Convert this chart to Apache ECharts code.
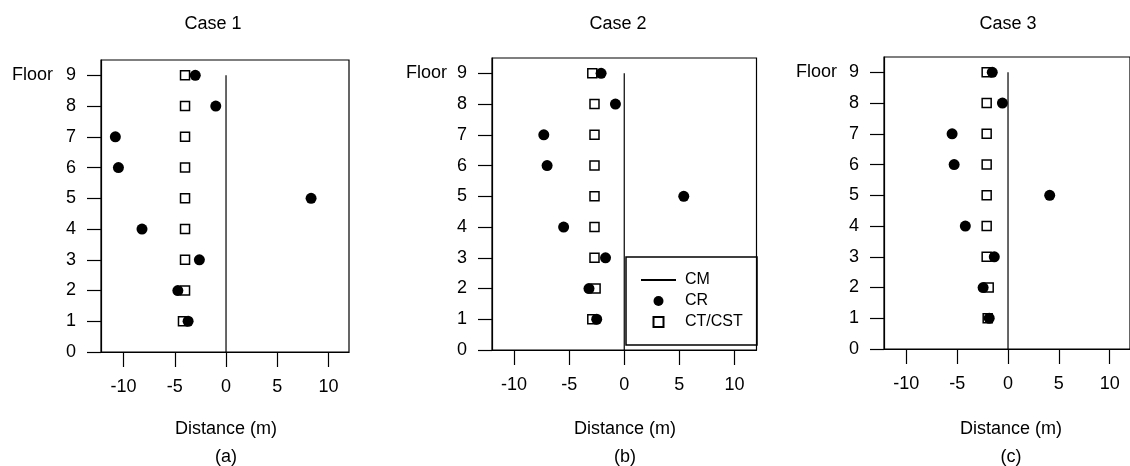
<!DOCTYPE html>
<html><head><meta charset="utf-8">
<script src="https://cdn.jsdelivr.net/npm/echarts@6/dist/echarts.min.js"></script>
<style>html,body{margin:0;padding:0;background:#fff}#c{width:1130px;height:466px}</style>
</head><body><div id="c"></div>
<script>
// ---- data ----
const floors = [1, 2, 3, 4, 5, 6, 7, 8, 9];
const floorTicks = [0, 1, 2, 3, 4, 5, 6, 7, 8, 9];
const distanceTicks = [-10, -5, 0, 5, 10];
const caseTitles = ['Case 1', 'Case 2', 'Case 3'];
const panelTags = ['(a)', '(b)', '(c)'];

const case1CR = [-3.7, -4.7, -2.6, -8.2, 8.3, -10.5, -10.8, -1.0, -3.0];
const case1CT = [-4.2, -4.0, -4.0, -4.0, -4.0, -4.0, -4.0, -4.0, -4.0];
const case2CR = [-2.5, -3.2, -1.7, -5.5, 5.4, -7.0, -7.3, -0.8, -2.1];
const case2CT = [-2.9, -2.6, -2.7, -2.7, -2.7, -2.7, -2.7, -2.7, -2.9];
const case3CR = [-1.85, -2.45, -1.35, -4.2, 4.1, -5.3, -5.5, -0.55, -1.55];
const case3CT = [-2.0, -1.9, -2.1, -2.1, -2.1, -2.1, -2.1, -2.1, -2.1];
const cmDistance = [0, 0];
const cmFloors = [0, 9];

// ---- layout ----
const FONT = '"Liberation Sans", Arial, Helvetica, sans-serif';
const grids = [
  { left: 101, top: 60, width: 248, height: 292 },
  { left: 492, top: 58, width: 264.5, height: 292 },
  { left: 884, top: 57, width: 250.5, height: 292 }
];
const xRanges = [[-12.2, 12], [-12, 12], [-12.2, 12]];
const titleX = [213, 618, 1008];
const distX = [226, 625, 1011];
const floorLabelX = [12, 406, 796];
const floorLabelY = [75, 73, 72];

const crData = [case1CR, case2CR, case3CR];
const ctData = [case1CT, case2CT, case3CT];

const pair = (xs, ys) => xs.map((x, i) => [x, ys[i]]);
const SQUARE = 'path://M0,0L10,0L10,10L0,10Z';

const xAxes = [], yAxes = [], series = [], graphics = [];
grids.forEach((g, i) => {
  xAxes.push({
    type: 'value', gridIndex: i, min: xRanges[i][0], max: xRanges[i][1],
    axisLine: { show: true, onZero: false, lineStyle: { color: '#000', width: 1.2 } },
    axisTick: { show: true, length: 15, customValues: distanceTicks, lineStyle: { color: '#000', width: 1.2 } },
    axisLabel: { customValues: distanceTicks, margin: 26, fontSize: 18, color: '#000', fontFamily: FONT },
    splitLine: { show: false }
  });
  yAxes.push({
    type: 'value', gridIndex: i, min: 0, max: 9.5,
    axisLine: { show: true, onZero: false, lineStyle: { color: '#000', width: 1.2 } },
    axisTick: { show: true, length: 14, customValues: floorTicks, lineStyle: { color: '#000', width: 1.2 } },
    axisLabel: { customValues: floorTicks, margin: 25, fontSize: 18, color: '#000', fontFamily: FONT },
    splitLine: { show: false }
  });
  series.push({
    name: 'CT/CST', type: 'scatter', xAxisIndex: i, yAxisIndex: i,
    symbol: 'rect', symbolSize: 9,
    itemStyle: { color: '#fff', borderColor: '#000', borderWidth: 1.5, opacity: 1 },
    data: pair(ctData[i], floors)
  });
  series.push({
    name: 'CR', type: 'scatter', xAxisIndex: i, yAxisIndex: i,
    symbol: 'circle', symbolSize: 11,
    itemStyle: { color: '#000', opacity: 1 },
    data: pair(crData[i], floors)
  });
  series.push({
    name: 'CM', type: 'line', xAxisIndex: i, yAxisIndex: i,
    symbol: 'none', itemStyle: { color: '#000' }, lineStyle: { color: '#000', width: 1.2 },
    data: pair(cmDistance, cmFloors)
  });
  const ts = { fontSize: 18, fill: '#000', fontFamily: FONT, textAlign: 'center', textVerticalAlign: 'middle' };
  graphics.push({ type: 'text', x: titleX[i], y: 24, style: Object.assign({ text: caseTitles[i] }, ts) });
  graphics.push({ type: 'text', x: distX[i], y: 429, style: Object.assign({ text: 'Distance (m)' }, ts) });
  graphics.push({ type: 'text', x: distX[i], y: 457, style: Object.assign({ text: panelTags[i] }, ts) });
  graphics.push({ type: 'text', x: floorLabelX[i], y: floorLabelY[i],
    style: { text: 'Floor', fontSize: 18, fill: '#000', fontFamily: FONT, textAlign: 'left', textVerticalAlign: 'middle' } });
});
graphics.push({ type: 'rect', shape: { x: 626, y: 257, width: 131, height: 88 },
  style: { fill: 'none', stroke: '#000', lineWidth: 1.5 }, z: 10 });

const chart = echarts.init(document.getElementById('c'), null, { renderer: 'canvas' });
chart.setOption({
  animation: false,
  backgroundColor: '#fff',
  grid: grids.map(g => Object.assign({ show: true, borderColor: '#000', borderWidth: 1.2, backgroundColor: 'transparent' }, g)),
  xAxis: xAxes,
  yAxis: yAxes,
  legend: {
    left: 640, top: 272, orient: 'vertical', padding: 0, itemGap: 5,
    itemWidth: 35, itemHeight: 10, symbolKeepAspect: true, selectedMode: false,
    data: [
      { name: 'CM', itemStyle: { opacity: 0 } },
      { name: 'CR', icon: 'circle' },
      { name: 'CT/CST', icon: SQUARE }
    ],
    textStyle: { fontSize: 16, color: '#000', fontFamily: FONT, padding: [0, 0, 0, 4] }
  },
  graphic: graphics,
  series: series
});
</script></body></html>
